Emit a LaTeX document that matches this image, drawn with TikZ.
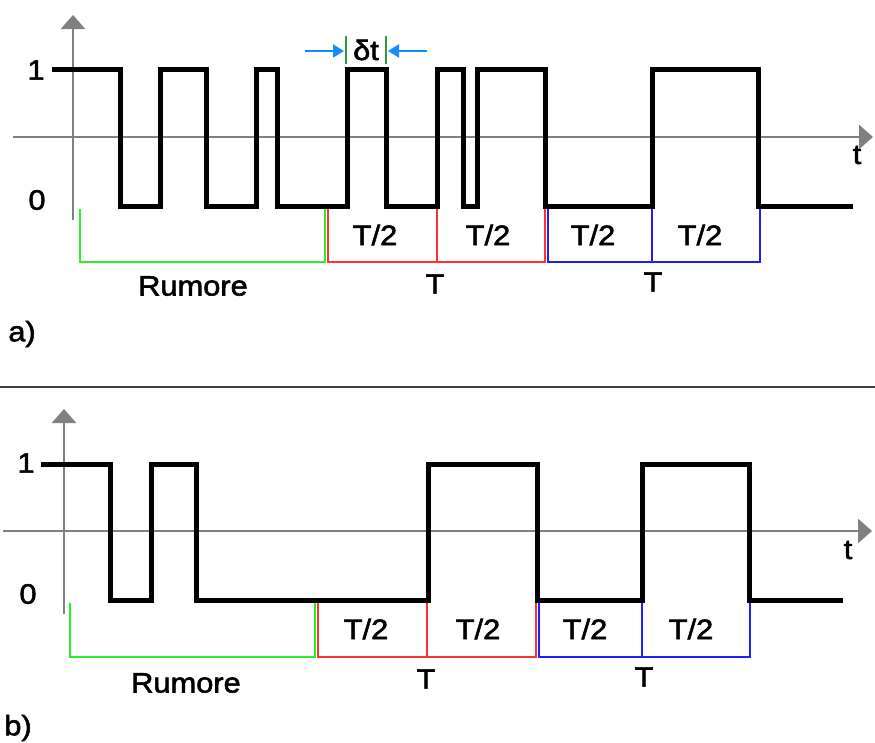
\documentclass[tikz,border=0pt]{standalone}
\usepackage{fontspec}
\setmainfont{Liberation Sans}
\newfontfamily\lblfont[FakeStretch=1.1,FakeBold=2]{Liberation Sans}
\usetikzlibrary{arrows.meta}
\definecolor{axisgray}{RGB}{128,128,128}
\definecolor{noisegreen}{RGB}{40,240,40}
\definecolor{bitred}{RGB}{255,50,50}
\definecolor{bitblue}{RGB}{30,30,255}
\definecolor{dtblue}{RGB}{20,140,255}
\definecolor{dtgreen}{RGB}{40,160,60}
\tikzset{
  axis/.style={draw=axisgray, line width=2.8pt, -{Triangle[width=24pt,length=14pt]}},
  signal/.style={draw=black, line width=5pt, line join=miter},
  bracket/.style={line width=1.4pt},
  lbl/.style={font=\lblfont\fontsize{28}{30}\selectfont, inner sep=0pt},
  sep/.style={draw=black!75, line width=1.6pt},
  dtarrow/.style={draw=dtblue, line width=2pt, -{Triangle[width=13pt,length=11pt]}},
}
\begin{document}
\begin{tikzpicture}[x=1pt, y=-1pt]
\useasboundingbox (0,0) rectangle (875,742);

% ---------- panel a ----------
\coordinate (ayb) at (73,220);
\coordinate (ayt) at (73,15);
\coordinate (axl) at (13,137);
\coordinate (axr) at (873,137);
\draw[axis] (ayb) -- (ayt);
\draw[axis] (axl) -- (axr);
\node[lbl] (at) at (857,155) {t};
\node[lbl] (a1) at (36,70) {1};
\node[lbl] (a0) at (37,200) {0};

\draw[signal] (52,69) -- (120,69) -- (120,206) -- (160,206) -- (160,69)
  -- (206,69) -- (206,206) -- (256,206) -- (256,69) -- (277,69) -- (277,206)
  -- (347,206) -- (347,69) -- (386,69) -- (386,206) -- (437,206) -- (437,69)
  -- (463,69) -- (463,206) -- (477,206) -- (477,69) -- (545,69) -- (545,206)
  -- (652,206) -- (652,69) -- (758,69) -- (758,206) -- (853,206);

% delta t marker
\draw[draw=dtgreen, line width=1.6pt] (346,36) -- (346,64);
\draw[draw=dtgreen, line width=1.6pt] (386,36) -- (386,64);
\node[lbl] (adt) at (366,50) {δt};
\coordinate (dtl) at (305,51);
\coordinate (dtlt) at (344,51);
\coordinate (dtr) at (427,51);
\coordinate (dtrt) at (388,51);
\draw[dtarrow] (dtl) -- (dtlt);
\draw[dtarrow] (dtr) -- (dtrt);

% brackets
\draw[bracket, noisegreen] (80,209) -- (80,262) -- (325,262) -- (325,209);
\draw[bracket, bitred] (328,209) -- (328,262) -- (545,262) -- (545,209);
\draw[bracket, bitred] (437,209) -- (437,262);
\draw[bracket, bitblue] (548,209) -- (548,262) -- (760,262) -- (760,209);
\draw[bracket, bitblue] (652,209) -- (652,262);

\node[lbl] (ah1) at (375,235) {T/2};
\node[lbl] (ah2) at (488,235) {T/2};
\node[lbl] (ah3) at (593,235) {T/2};
\node[lbl] (ah4) at (700,235) {T/2};
\node[lbl] (aT1) at (435,284) {T};
\node[lbl] (aT2) at (653,282) {T};
\node[lbl] (arum) at (193,286) {Rumore};
\node[lbl] (alab) at (22,334) {a)};

% separator
\draw[sep] (0,387) -- (875,387);

% ---------- panel b ----------
\coordinate (byb) at (64,614);
\coordinate (byt) at (64,409);
\coordinate (bxl) at (3,531);
\coordinate (bxr) at (872,531);
\draw[axis] (byb) -- (byt);
\draw[axis] (bxl) -- (bxr);
\node[lbl] (bt) at (848,550) {t};
\node[lbl] (b1) at (26,463) {1};
\node[lbl] (b0) at (28,594) {0};

\draw[signal] (41,464) -- (110,464) -- (110,600) -- (151,600) -- (151,464)
  -- (196,464) -- (196,600) -- (428,600) -- (428,464) -- (537,464) -- (537,600)
  -- (642,600) -- (642,464) -- (749,464) -- (749,600) -- (843,600);

\draw[bracket, noisegreen] (70,603) -- (70,657) -- (315,657) -- (315,603);
\draw[bracket, bitred] (318,603) -- (318,657) -- (536,657) -- (536,603);
\draw[bracket, bitred] (427,603) -- (427,657);
\draw[bracket, bitblue] (539,603) -- (539,657) -- (750,657) -- (750,603);
\draw[bracket, bitblue] (642,603) -- (642,657);

\node[lbl] (bh1) at (366,629) {T/2};
\node[lbl] (bh2) at (478,629) {T/2};
\node[lbl] (bh3) at (585,629) {T/2};
\node[lbl] (bh4) at (691,629) {T/2};
\node[lbl] (bT1) at (426,679) {T};
\node[lbl] (bT2) at (644,677) {T};
\node[lbl] (brum) at (186,683) {Rumore};
\node[lbl] (blab) at (18,728) {b)};
\end{tikzpicture}
\end{document}
